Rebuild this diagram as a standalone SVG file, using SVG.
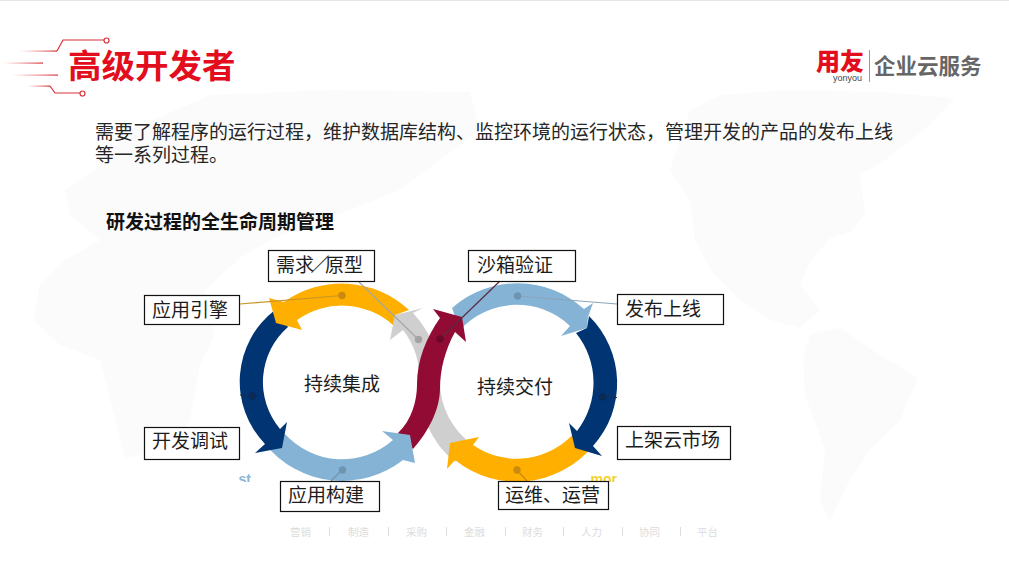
<svg xmlns="http://www.w3.org/2000/svg" width="1009" height="568" viewBox="0 0 1009 568">
<style>
text{font-family:"Noto Sans CJK SC","Noto Sans",sans-serif}
.map{fill:#fbfbfb}
.box rect{fill:#fff;stroke:#111;stroke-width:1.2}
.box text,.center{font-size:19px;fill:#1c1c1c}
.body{font-size:19px;fill:#262626}
.foot{font-size:10.5px;fill:#dcdcdc}
.sep{stroke:#dedede;stroke-width:1}
.tick{fill:none;stroke-width:1.2}
.navy{fill:#003473}.amber{fill:#ffaf00}.blue{fill:#85b3d6}.crimson{fill:#920b34}.gray{fill:#cfcfcf}
.lead{fill:none;stroke-width:1.2}
</style>
<defs>
<linearGradient id="fade" x1="0" y1="0" x2="1" y2="0"><stop offset="0" stop-color="#e2574f" stop-opacity="0"/><stop offset="1" stop-color="#d9303a"/></linearGradient>
<clipPath id="cut"><rect x="230" y="470" width="400" height="12"/></clipPath>
</defs>
<rect width="1009" height="568" fill="#fff"/>
<line x1="0" y1="0.5" x2="1009" y2="0.5" stroke="#e6e6e6"/>
<g id="map">
<path class="map" d="M33,320 L40,285 L62,262 L100,240 L70,215 L65,190 L95,170 L130,130 L210,95 L330,90 L470,92 L480,130 L440,160 L400,190 L350,210 L310,225 L270,240 L240,258 L205,290 L215,335 L200,365 L190,420 L170,450 L125,458 L110,400 L100,360 L60,345 Z"/>
<path class="map" d="M690,110 L720,95 L790,90 L880,92 L955,98 L930,125 L885,160 L860,175 L865,215 L850,232 L830,238 L810,262 L800,285 L820,310 L800,328 L770,320 L740,300 L710,270 L695,240 L690,200 L670,170 Z"/>
<path class="map" d="M810,335 L840,328 L880,355 L918,378 L900,420 L870,450 L850,480 L830,520 L820,500 L825,450 L805,395 L803,360 Z"/>
</g>
<g id="title">
<rect x="20" y="50.500" width="37" height="1.200" fill="url(#fade)"/>
<path d="M57,51 L63,40 H104" stroke="#d9303a" class="tick"/>
<circle cx="106.500" cy="40.500" r="2.500" fill="#fff" stroke="#d9303a" stroke-width="1.2"/>
<rect x="3" y="62.500" width="40" height="1.200" fill="url(#fade)"/>
<rect x="12" y="74.500" width="46" height="1.200" fill="url(#fade)"/>
<rect x="27" y="85.500" width="23" height="1.200" fill="url(#fade)"/>
<path d="M50,86 L55,93 H80" stroke="#d9303a" class="tick"/>
<circle cx="82.500" cy="93.500" r="2.500" fill="#fff" stroke="#d9303a" stroke-width="1.2"/>
<text x="68" y="78" font-size="33.500" font-weight="700" fill="#e30e1d">高级开发者</text>
</g>
<g id="logo">
<text x="816" y="70" font-size="24" font-weight="900" fill="#e30e1d">用友</text>
<text x="833" y="81" font-size="9" fill="#444" style="font-family:'Liberation Sans',sans-serif">yonyou</text>
<line x1="869.500" y1="50" x2="869.500" y2="82" stroke="#999"/>
<text x="874" y="74" font-size="21.500" font-weight="700" fill="#666">企业云服务</text>
</g>
<g id="intro">
<text class="body" x="95" y="139">需要了解程序的运行过程&#xFF0C;维护数据库结构、监控环境的运行状态&#xFF0C;管理开发的产品的发布上线</text>
<text class="body" x="95" y="162">等一系列过程。</text>
</g>
<text x="106" y="229" font-size="19" font-weight="700" fill="#111">研发过程的全生命周期管理</text>
<g id="fragments" clip-path="url(#cut)" font-weight="700" font-size="14">
<text x="238.500" y="484" fill="#8cb6d6" style="font-family:'Liberation Sans',sans-serif">st</text>
<text x="590.500" y="484" fill="#f3d22a" style="font-family:'Liberation Sans',sans-serif">mor</text>
</g>
<g id="cycle">
<path id="gray-arrow" class="gray" d="M423,308 L395,315 L390,340 L403,330 A77,77 0 0 1 419,382 A99,99 0 0 0 455,462 L473,445 A77,77 0 0 1 440,382 A99,99 0 0 0 413,313 Z"/>
<path id="blue-right" class="blue" d="M452,308 A99,99 0 0 1 584,309 L593,303 L588,317 L587,328 L561,336 L570,326 A77,77 0 0 0 460,330 Z"/>
<path id="crimson-arrow" class="crimson" d="M398,433 C412,420 417,400 417,385 C417,360 426,338 440,318 L433,309 L462,317 L466,342 L455,332 C445,350 440,370 440,388 C440,410 428,432 413,449 Z"/>
<path id="blue-left" class="blue" d="M265,444 A99,99 0 0 0 403,460 L415,463 L410,435 L382,431 L393,440 A77,77 0 0 1 285,434 Z"/>
<path id="navy-left" class="navy" d="M275,310 A90,90 0 0 0 265,444 L255,453 L282,448 L287,422 L280,429 A73,73 0 0 1 288,327 Z"/>
<path id="amber-left" class="amber" d="M269,298 L276,323 L302,330 L297,320 A77,77 0 0 1 393,325 L395,315 L409,310 A99,99 0 0 0 284,302 Z"/>
<path id="amber-right" class="amber" d="M593,446 A99,99 0 0 1 455,460 L447,469 L450,443 L479,437 L473,445 A77,77 0 0 0 576,431 Z"/>
<path id="navy-right" class="navy" d="M589,316 A94,94 0 0 1 593,446 L602,456 L575,448 L569,423 L577,431 A79,79 0 0 0 576,333 L587,328 Z"/>
</g>
<g id="connectors">
<line class="lead" x1="240" y1="304" x2="342" y2="295.500" stroke="#c9952a"/>
<line class="lead" x1="358" y1="281" x2="418" y2="339" stroke="#a3a9a8"/>
<line class="lead" x1="500" y1="281" x2="440" y2="339" stroke="#5c2a42"/>
<line class="lead" x1="617" y1="304" x2="517.500" y2="296" stroke="#8ba4b8"/>
<line class="lead" x1="240" y1="395" x2="252" y2="396" stroke="#1b2f50"/>
<line class="lead" x1="617" y1="397.500" x2="602" y2="397" stroke="#1b2f50"/>
<line class="lead" x1="331" y1="481" x2="342" y2="470" stroke="#6f94b0"/>
<line class="lead" x1="527" y1="481" x2="517" y2="470" stroke="#c98a0f"/>
<circle cx="342" cy="295.500" r="3.700" fill="#c98a0f"/>
<circle cx="418.500" cy="339.500" r="3.700" fill="#a3a3a3"/>
<circle cx="440" cy="339" r="3.700" fill="#6a0a2a"/>
<circle cx="517.500" cy="296" r="3.700" fill="#6f94b0"/>
<circle cx="252.500" cy="396" r="3.700" fill="#0b2a58"/>
<circle cx="602.500" cy="397" r="3.700" fill="#0b2a58"/>
<circle cx="342.500" cy="470" r="3.700" fill="#6f94b0"/>
<circle cx="517" cy="470" r="3.700" fill="#c98a0f"/>
</g>
<text class="center" x="304" y="391">持续集成</text>
<text class="center" x="477" y="394">持续交付</text>
<g id="n-engine" class="box"><rect x="144.500" y="295.500" width="95" height="29"/><text x="152" y="317">应用引擎</text></g>
<g id="n-req" class="box"><rect x="268.500" y="250.500" width="106" height="31"/><text x="276 295 310.500 325 344" y="272">需求／原型</text></g>
<g id="n-debug" class="box"><rect x="144.500" y="427.500" width="95" height="32"/><text x="152" y="448">开发调试</text></g>
<g id="n-build" class="box"><rect x="280.500" y="481.500" width="99" height="30"/><text x="288" y="502">应用构建</text></g>
<g id="n-sandbox" class="box"><rect x="468.500" y="250.500" width="107" height="31"/><text x="477" y="272">沙箱验证</text></g>
<g id="n-release" class="box"><rect x="617.500" y="294.500" width="106" height="30"/><text x="625" y="316">发布上线</text></g>
<g id="n-market" class="box"><rect x="617.500" y="426.500" width="113" height="33"/><text x="625" y="447">上架云市场</text></g>
<g id="n-ops" class="box"><rect x="498.500" y="481.500" width="110" height="28"/><text x="505" y="502">运维、运营</text></g>
<g id="footer">
<text class="foot" x="290" y="536">营销</text><text class="foot" x="348" y="536">制造</text><text class="foot" x="406" y="536">采购</text><text class="foot" x="464" y="536">金融</text><text class="foot" x="522" y="536">财务</text><text class="foot" x="581" y="536">人力</text><text class="foot" x="639" y="536">协同</text><text class="foot" x="697" y="536">平台</text>
<path class="sep" d="M329.500,527V536M388.500,527V536M446.500,527V536M505.500,527V536M563.500,527V536M622.500,527V536M680.500,527V536"/>
</g>
</svg>
